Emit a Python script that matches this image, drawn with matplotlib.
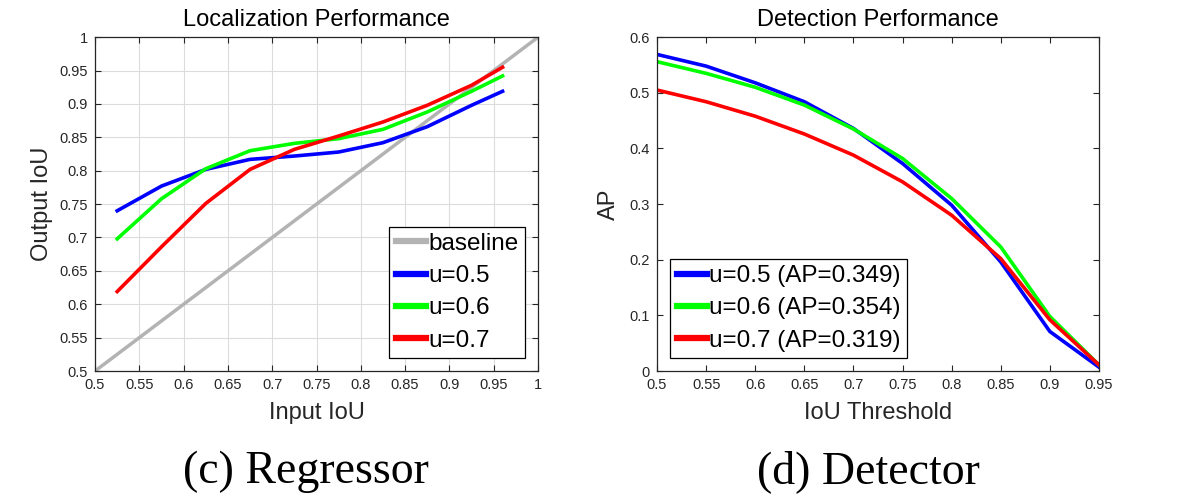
import matplotlib
matplotlib.use("Agg")
import matplotlib.pyplot as plt
import numpy as np

plt.rcParams['font.family'] = ['Liberation Sans', 'DejaVu Sans']

# (c) Regressor: output IoU vs input IoU
input_iou = [0.525, 0.575, 0.625, 0.675, 0.725, 0.775, 0.825, 0.875, 0.925, 0.96]
reg_u05 = [0.740, 0.777, 0.802, 0.817, 0.822, 0.828, 0.842, 0.866, 0.898, 0.919]
reg_u06 = [0.698, 0.758, 0.803, 0.830, 0.841, 0.848, 0.862, 0.888, 0.919, 0.942]
reg_u07 = [0.619, 0.686, 0.751, 0.802, 0.832, 0.852, 0.873, 0.898, 0.928, 0.955]
baseline = [0.5, 1.0]

# (d) Detector: AP vs IoU threshold
iou_thr = [0.5, 0.55, 0.6, 0.65, 0.7, 0.75, 0.8, 0.85, 0.9, 0.95]
det_u05 = [0.569, 0.548, 0.518, 0.484, 0.436, 0.373, 0.298, 0.196, 0.071, 0.007]
det_u06 = [0.556, 0.535, 0.510, 0.478, 0.435, 0.382, 0.310, 0.223, 0.098, 0.011]
det_u07 = [0.505, 0.484, 0.458, 0.426, 0.388, 0.340, 0.280, 0.202, 0.092, 0.011]
det_labels = ['u=0.5 (AP=0.349)', 'u=0.6 (AP=0.354)', 'u=0.7 (AP=0.319)']

BLUE = '#0000ff'
GREEN = '#00ff00'
RED = '#ff0000'
TXT = '#262626'

fig = plt.figure(figsize=(11.94, 4.98), dpi=100)
ax1 = fig.add_axes([0.0796, 0.255, 0.371, 0.6703])
ax2 = fig.add_axes([0.5503, 0.255, 0.3701, 0.6703])

def style(ax):
    ax.tick_params(direction='in', top=True, right=True, labelsize=10.5,
                   colors=TXT, length=4, width=0.8, pad=5)
    for s in ax.spines.values():
        s.set_color(TXT)
        s.set_linewidth(0.9)

def fix_legend(leg):
    leg.get_frame().set_linewidth(0.9)
    for l in leg.get_lines():
        l.set_linewidth(4.5)

leg_kw = dict(fontsize=17.5, handlelength=1.25, handletextpad=0.1,
              borderpad=0.25, labelspacing=0.42, borderaxespad=0.55, fancybox=False,
              framealpha=1, edgecolor='black')

# left panel
ax1.plot(baseline, baseline, color='#b3b3b3', lw=2.5, label='baseline')
ax1.plot(input_iou, reg_u05, color=BLUE, lw=2.6, label='u=0.5')
ax1.plot(input_iou, reg_u06, color=GREEN, lw=2.6, label='u=0.6')
ax1.plot(input_iou, reg_u07, color=RED, lw=2.6, label='u=0.7')
ax1.set_xlim(0.5, 1.0)
ax1.set_ylim(0.5, 1.0)
ticks = np.arange(0.5, 1.001, 0.05)
ax1.set_xticks(ticks)
ax1.set_yticks(ticks)
ax1.set_xticklabels(['0.5', '0.55', '0.6', '0.65', '0.7', '0.75', '0.8', '0.85', '0.9', '0.95', '1'])
ax1.set_yticklabels(['0.5', '0.55', '0.6', '0.65', '0.7', '0.75', '0.8', '0.85', '0.9', '0.95', '1'])
ax1.grid(True, color='#dcdcdc', lw=0.8)
ax1.set_axisbelow(True)
style(ax1)
ax1.set_title('Localization Performance', fontsize=17, color='black', pad=8)
ax1.set_xlabel('Input IoU', fontsize=17, color=TXT, labelpad=7)
ax1.set_ylabel('Output IoU', fontsize=17, color=TXT, labelpad=5)
leg1 = ax1.legend(loc='lower right', **leg_kw)
fix_legend(leg1)

# right panel
ax2.plot(iou_thr, det_u05, color=BLUE, lw=2.6, label=det_labels[0])
ax2.plot(iou_thr, det_u06, color=GREEN, lw=2.6, label=det_labels[1])
ax2.plot(iou_thr, det_u07, color=RED, lw=2.6, label=det_labels[2])
ax2.set_xlim(0.5, 0.95)
ax2.set_ylim(0, 0.6)
ax2.set_xticks(iou_thr)
ax2.set_xticklabels(['0.5', '0.55', '0.6', '0.65', '0.7', '0.75', '0.8', '0.85', '0.9', '0.95'])
ax2.set_yticks(np.arange(0, 0.601, 0.1))
ax2.set_yticklabels(['0', '0.1', '0.2', '0.3', '0.4', '0.5', '0.6'])
style(ax2)
ax2.set_title('Detection Performance', fontsize=17, color='black', pad=8)
ax2.set_xlabel('IoU Threshold', fontsize=17, color=TXT, labelpad=7)
ax2.set_ylabel('AP', fontsize=17, color=TXT, labelpad=7)
leg2 = ax2.legend(loc='lower left', **leg_kw)
fix_legend(leg2)

# sub-captions
fig.text(0.256, 0.03, '(c) Regressor', fontsize=33, family=['Liberation Serif', 'DejaVu Serif'],
         ha='center', va='baseline')
fig.text(0.727, 0.03, '(d) Detector', fontsize=33, family=['Liberation Serif', 'DejaVu Serif'],
         ha='center', va='baseline')

fig.savefig('out.png', dpi=100)
